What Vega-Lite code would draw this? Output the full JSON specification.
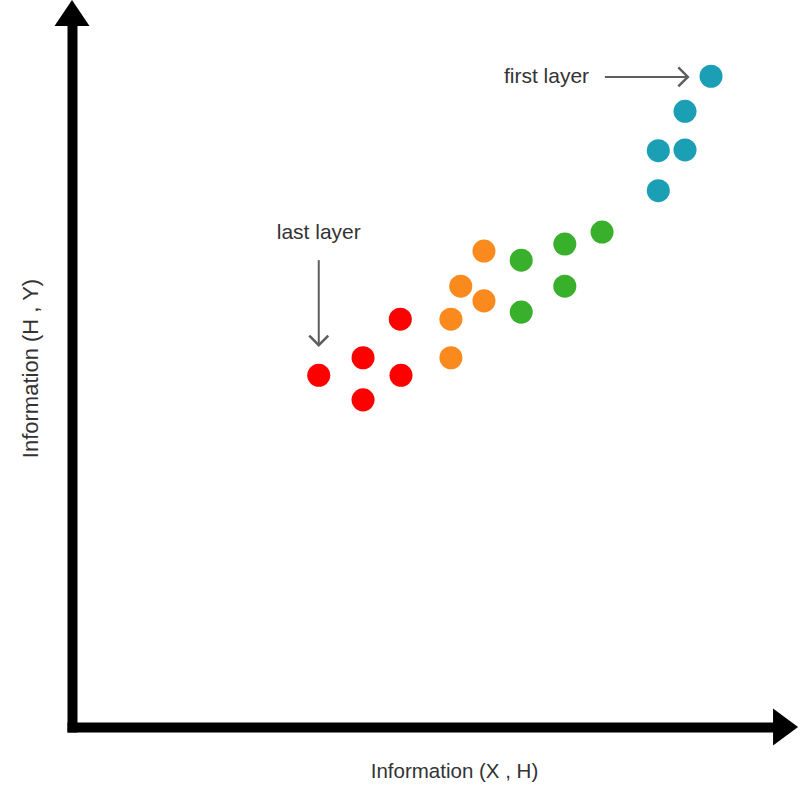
{
  "$schema": "https://vega.github.io/schema/vega-lite/v6.json",
  "width": 703,
  "height": 702,
  "padding": {"left": 72, "top": 25, "right": 25, "bottom": 73},
  "autosize": {"type": "none"},
  "background": "white",
  "config": {"view": {"stroke": null}, "font": "Liberation Sans"},
  "encoding": {
    "x": {
      "field": "x", "type": "quantitative",
      "scale": {"domain": [0, 100], "nice": false, "zero": false},
      "axis": {
        "title": "Information (X , H)", "domain": true, "domainColor": "black", "domainWidth": 10,
        "domainCap": "square", "ticks": false, "labels": false, "grid": false,
        "titleFont": "Liberation Sans", "titleFontSize": 20.5, "titleFontWeight": "normal",
        "titleColor": "#333333", "titlePadding": 34, "titleX": 382, "titleAlign": "center"
      }
    },
    "y": {
      "field": "y", "type": "quantitative",
      "scale": {"domain": [0, 100], "nice": false, "zero": false},
      "axis": {
        "title": "Information (H , Y)", "domain": true, "domainColor": "black", "domainWidth": 10,
        "domainCap": "square", "ticks": false, "labels": false, "grid": false,
        "titleFont": "Liberation Sans", "titleFontSize": 22, "titleFontWeight": "normal",
        "titleColor": "#333333", "titlePadding": 30, "titleY": 343, "titleAlign": "center"
      }
    }
  },
  "layer": [
    {
      "data": {"values": [{"x": 0, "y": 101.7}]},
      "mark": {"type": "point", "shape": "M0,-0.5L0.673,0.5L-0.673,0.5Z", "size": 2704, "filled": true, "color": "black", "opacity": 1, "strokeWidth": 0}
    },
    {
      "data": {"values": [{"x": 101.5, "y": 0}]},
      "mark": {"type": "point", "shape": "M0.5,0L-0.5,0.74L-0.5,-0.74Z", "size": 2500, "filled": true, "color": "black", "opacity": 1, "strokeWidth": 0}
    },
    {
      "data": {"values": [
        {"x": 35.1, "y": 50.1, "layer": "last layer"},
        {"x": 41.4, "y": 52.6, "layer": "last layer"},
        {"x": 41.4, "y": 46.6, "layer": "last layer"},
        {"x": 46.7, "y": 58.1, "layer": "last layer"},
        {"x": 46.8, "y": 50.1, "layer": "last layer"},
        {"x": 58.6, "y": 67.8, "layer": "layer 3"},
        {"x": 55.3, "y": 62.8, "layer": "layer 3"},
        {"x": 58.6, "y": 60.7, "layer": "layer 3"},
        {"x": 53.9, "y": 58.1, "layer": "layer 3"},
        {"x": 53.9, "y": 52.6, "layer": "layer 3"},
        {"x": 63.9, "y": 66.5, "layer": "layer 2"},
        {"x": 63.9, "y": 59.1, "layer": "layer 2"},
        {"x": 70.1, "y": 68.8, "layer": "layer 2"},
        {"x": 70.1, "y": 62.8, "layer": "layer 2"},
        {"x": 75.4, "y": 70.5, "layer": "layer 2"},
        {"x": 90.9, "y": 92.7, "layer": "first layer"},
        {"x": 87.2, "y": 87.7, "layer": "first layer"},
        {"x": 83.4, "y": 82.1, "layer": "first layer"},
        {"x": 87.2, "y": 82.2, "layer": "first layer"},
        {"x": 83.4, "y": 76.4, "layer": "first layer"}
      ]},
      "mark": {"type": "point", "filled": true, "size": 530, "opacity": 1, "strokeWidth": 0},
      "encoding": {
        "color": {
          "field": "layer", "type": "nominal",
          "scale": {"domain": ["last layer", "layer 3", "layer 2", "first layer"], "range": ["#fe0000", "#fa8a1e", "#38b02c", "#1a9fb5"]},
          "legend": null
        }
      }
    },
    {
      "data": {"values": [
        {"x": 75.8, "y": 92.6, "x2": 87.6, "y2": 92.6},
        {"x": 35.1, "y": 66.5, "x2": 35.1, "y2": 54.4}
      ]},
      "mark": {"type": "rule", "color": "#5e5e5e", "strokeWidth": 2},
      "encoding": {
        "x2": {"field": "x2"},
        "y2": {"field": "y2"}
      }
    },
    {
      "data": {"values": [
        {"x": 87.6, "y": 92.6, "dir": "right"},
        {"x": 35.1, "y": 54.4, "dir": "down"}
      ]},
      "mark": {"type": "point", "filled": false, "size": 361, "opacity": 1, "stroke": "#5e5e5e", "strokeWidth": 2.5},
      "encoding": {
        "shape": {
          "field": "dir", "type": "nominal",
          "scale": {"domain": ["right", "down"], "range": ["M-1,-1L0,0L-1,1", "M-1,-1L0,0L1,-1"]},
          "legend": null
        }
      }
    },
    {
      "data": {"values": [
        {"x": 67.5, "y": 91.7, "label": "first layer"},
        {"x": 35.1, "y": 69.5, "label": "last layer"}
      ]},
      "mark": {"type": "text", "align": "center", "baseline": "alphabetic", "fontSize": 21, "color": "#333333", "font": "Liberation Sans"},
      "encoding": {"text": {"field": "label"}}
    }
  ]
}
